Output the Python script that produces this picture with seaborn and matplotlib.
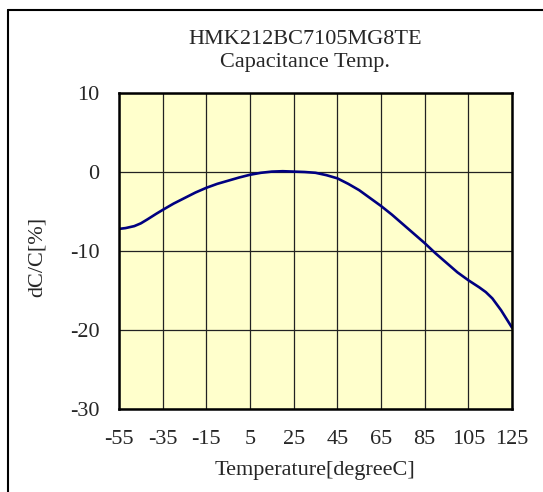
import matplotlib
matplotlib.use("Agg")
import matplotlib.pyplot as plt
from matplotlib.lines import Line2D
import seaborn as sns
import pandas as pd

title_lines = ["HMK212BC7105MG8TE", "Capacitance Temp."]
x_label = "Temperature[degreeC]"
y_label = "dC/C[%]"

temperature = [-55, -52, -48, -45, -42, -38, -35, -30, -25, -20, -15, -10, -5, 0, 5, 10, 15, 20, 25, 30, 35, 40, 45, 50, 55, 60, 65, 70, 75, 80, 85, 90, 95, 100, 105, 110, 113, 116, 120, 125]
dcc = [-7.2, -7.1, -6.85, -6.5, -6.0, -5.3, -4.8, -4.0, -3.3, -2.6, -2.0, -1.5, -1.1, -0.7, -0.35, -0.1, 0.05, 0.1, 0.05, 0.0, -0.1, -0.4, -0.8, -1.5, -2.3, -3.3, -4.3, -5.4, -6.6, -7.8, -9.0, -10.3, -11.5, -12.7, -13.7, -14.6, -15.2, -16.0, -17.5, -19.7]

x_ticks = [-55, -35, -15, 5, 25, 45, 65, 85, 105, 125]
y_ticks = [-30, -20, -10, 0, 10]

df = pd.DataFrame({"T": temperature, "dC": dcc})

sns.set_theme(style="white")
plt.rcParams["font.family"] = ["Liberation Serif", "DejaVu Serif"]

W, H = 543, 492
FS = 16
fig = plt.figure(figsize=(W / 100, H / 100), dpi=100)
L, R, T, B = 119, 512, 93, 409
ax = fig.add_axes([L / W, 1 - B / H, (R - L) / W, (B - T) / H])
ax.set_facecolor("#FFFFCC")

sns.lineplot(data=df, x="T", y="dC", ax=ax, color="#000080", linewidth=1.9, zorder=3)

ax.set_xlim(-55, 125)
ax.set_ylim(-30, 10)
ax.set_xticks(x_ticks)
ax.set_yticks(y_ticks)
ax.set_xticklabels([str(v) for v in x_ticks], fontsize=FS)
ax.set_yticklabels([str(v) for v in y_ticks], fontsize=FS)
ax.tick_params(axis="x", length=0, pad=15)
ax.tick_params(axis="y", length=0, pad=14)
ax.grid(True, color="#222222", linewidth=0.9)
ax.set_axisbelow(False)
for s in ax.spines.values():
    s.set_color("black")
    s.set_linewidth(1.8)
    s.set_zorder(4)
ax.set_xlabel("")
ax.set_ylabel("")

fig.text(305 / W, 1 - 40 / H, title_lines[0], ha="center", va="center", fontsize=FS)
fig.text(305 / W, 1 - 63 / H, title_lines[1], ha="center", va="center", fontsize=FS)
fig.text(315 / W, 1 - 470 / H, x_label, ha="center", va="center", fontsize=FS)
fig.text(37 / W, 1 - 257 / H, y_label, ha="center", va="center", fontsize=FS, rotation=90)

# outer frame (left and top edges visible)
fig.add_artist(Line2D([8 / W, 8 / W], [0, 1 - 10 / H], transform=fig.transFigure, color="black", linewidth=1.5))
fig.add_artist(Line2D([8 / W, 1], [1 - 10 / H, 1 - 10 / H], transform=fig.transFigure, color="black", linewidth=1.5))

fig.savefig("out.png", dpi=100)
